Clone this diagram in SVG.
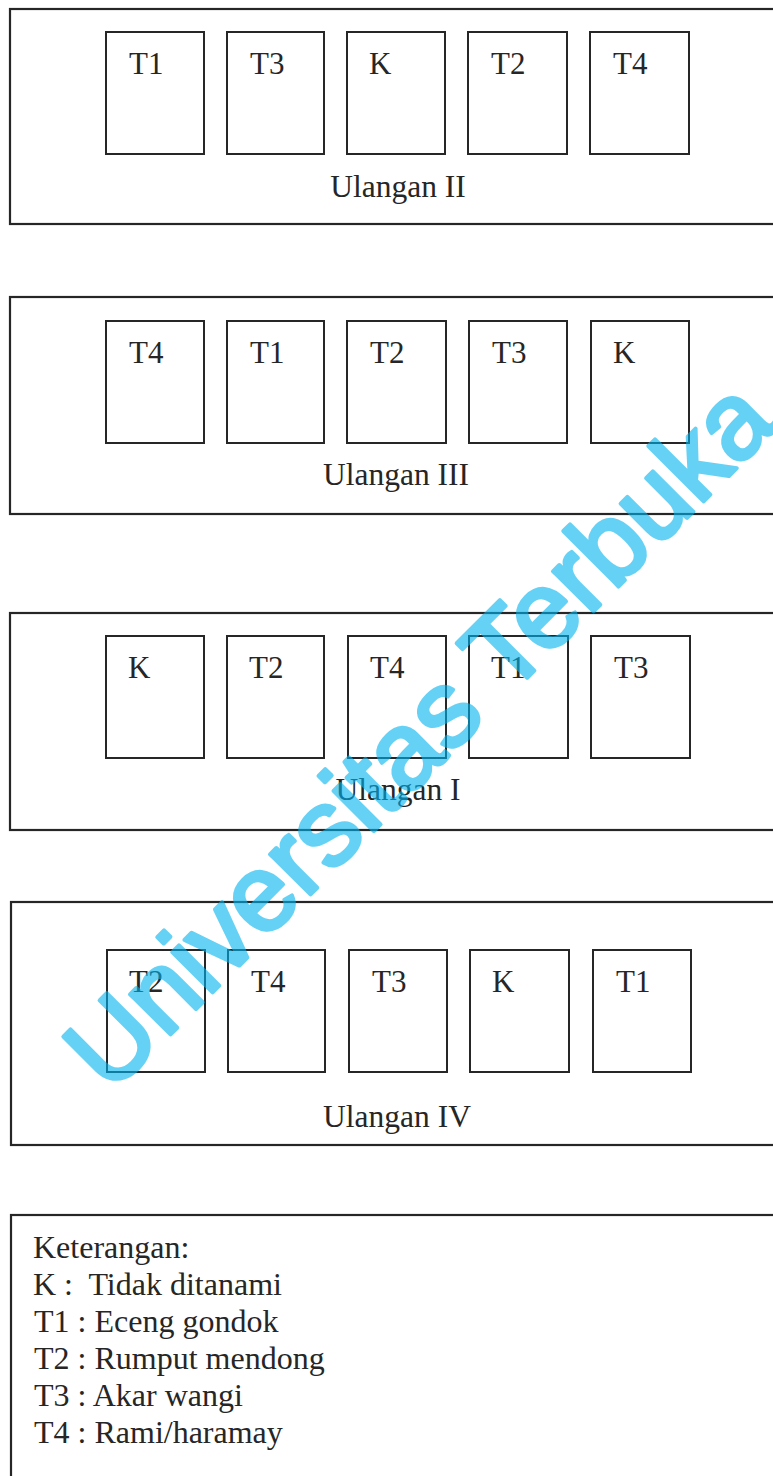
<svg xmlns="http://www.w3.org/2000/svg" width="773" height="1476" viewBox="0 0 773 1476">
<style>
.frame{fill:none;stroke:#262626;stroke-width:2.2}
.plot{fill:none;stroke:#262626;stroke-width:2}
.lbl{font-family:"Liberation Serif","Times New Roman",serif;font-size:31px;fill:#262626}
.rep{font-family:"Liberation Serif","Times New Roman",serif;font-size:31.5px;fill:#262626;text-anchor:middle}
.leg{font-family:"Liberation Serif","Times New Roman",serif;font-size:32px;fill:#262626;white-space:pre}
.wm{font-family:"Liberation Sans",Arial,sans-serif;font-size:108px;fill:#00b4f0;stroke:#00b4f0;stroke-width:4;stroke-linejoin:round;opacity:0.6}
</style>
<rect width="773" height="1476" fill="#ffffff"/>

<g id="ulangan-II">
  <rect class="frame" x="10" y="9" width="800" height="215"/>
  <g id="u2-p1"><rect class="plot" x="106" y="32" width="98" height="122"/><text class="lbl" x="129" y="74">T1</text></g>
  <g id="u2-p2"><rect class="plot" x="227" y="32" width="97" height="122"/><text class="lbl" x="250" y="74">T3</text></g>
  <g id="u2-p3"><rect class="plot" x="347" y="32" width="98" height="122"/><text class="lbl" x="369" y="74">K</text></g>
  <g id="u2-p4"><rect class="plot" x="468" y="32" width="99" height="122"/><text class="lbl" x="491" y="74">T2</text></g>
  <g id="u2-p5"><rect class="plot" x="590" y="32" width="99" height="122"/><text class="lbl" x="613" y="74">T4</text></g>
  <text class="rep" x="398" y="197">Ulangan II</text>
</g>

<g id="ulangan-III">
  <rect class="frame" x="10" y="297" width="800" height="217"/>
  <g id="u3-p1"><rect class="plot" x="106" y="321" width="98" height="122"/><text class="lbl" x="129" y="363">T4</text></g>
  <g id="u3-p2"><rect class="plot" x="227" y="321" width="97" height="122"/><text class="lbl" x="250" y="363">T1</text></g>
  <g id="u3-p3"><rect class="plot" x="347" y="321" width="99" height="122"/><text class="lbl" x="370" y="363">T2</text></g>
  <g id="u3-p4"><rect class="plot" x="469" y="321" width="98" height="122"/><text class="lbl" x="492" y="363">T3</text></g>
  <g id="u3-p5"><rect class="plot" x="591" y="321" width="98" height="122"/><text class="lbl" x="613" y="363">K</text></g>
  <text class="rep" x="396" y="485">Ulangan III</text>
</g>

<g id="ulangan-I">
  <rect class="frame" x="10" y="613" width="800" height="217"/>
  <g id="u1-p1"><rect class="plot" x="106" y="636" width="98" height="122"/><text class="lbl" x="128" y="678">K</text></g>
  <g id="u1-p2"><rect class="plot" x="227" y="636" width="97" height="122"/><text class="lbl" x="249" y="678">T2</text></g>
  <g id="u1-p3"><rect class="plot" x="348" y="636" width="98" height="122"/><text class="lbl" x="370" y="678">T4</text></g>
  <g id="u1-p4"><rect class="plot" x="469" y="636" width="99" height="122"/><text class="lbl" x="491" y="678">T1</text></g>
  <g id="u1-p5"><rect class="plot" x="591" y="636" width="99" height="122"/><text class="lbl" x="614" y="678">T3</text></g>
  <text class="rep" x="398" y="800">Ulangan I</text>
</g>

<g id="ulangan-IV">
  <rect class="frame" x="11" y="902" width="800" height="243"/>
  <g id="u4-p1"><rect class="plot" x="107" y="950" width="98" height="122"/><text class="lbl" x="129" y="992">T2</text></g>
  <g id="u4-p2"><rect class="plot" x="228" y="950" width="97" height="122"/><text class="lbl" x="251" y="992">T4</text></g>
  <g id="u4-p3"><rect class="plot" x="349" y="950" width="98" height="122"/><text class="lbl" x="372" y="992">T3</text></g>
  <g id="u4-p4"><rect class="plot" x="470" y="950" width="99" height="122"/><text class="lbl" x="492" y="992">K</text></g>
  <g id="u4-p5"><rect class="plot" x="593" y="950" width="98" height="122"/><text class="lbl" x="616" y="992">T1</text></g>
  <text class="rep" x="397" y="1127">Ulangan IV</text>
</g>

<g id="keterangan">
  <rect class="frame" x="11" y="1215" width="800" height="300"/>
  <text class="leg" x="33" y="1258">Keterangan:</text>
  <text class="leg" x="33" y="1295">K :  Tidak ditanami</text>
  <text class="leg" x="34" y="1332">T1 : Eceng gondok</text>
  <text class="leg" x="34" y="1369">T2 : Rumput mendong</text>
  <text class="leg" x="34" y="1406">T3 : Akar wangi</text>
  <text class="leg" x="34" y="1443">T4 : Rami/haramay</text>
</g>

<g id="connectors"/>

<text class="wm" transform="translate(110,1095) rotate(-45)">Universitas Terbuka</text>
</svg>
